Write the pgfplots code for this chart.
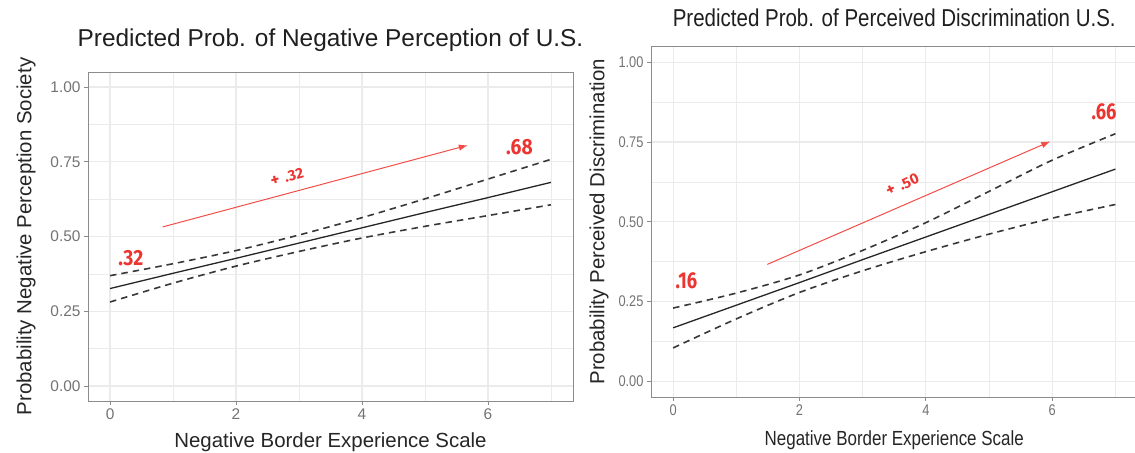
\documentclass[border=0pt]{standalone}
\usepackage{pgfplots}
\pgfplotsset{compat=1.18}
\usepackage{fontspec}
\setmainfont{Liberation Sans}
\newfontfamily\annfont{Fira Sans}
\usetikzlibrary{arrows.meta}
\definecolor{annred}{RGB}{236,52,48}
\definecolor{arrred}{RGB}{242,78,72}

\pgfplotstableread{
x  fit    up     lo
0  0.326  0.369  0.281
1  0.377  0.409  0.344
2  0.427  0.453  0.401
3  0.478  0.505  0.450
4  0.529  0.563  0.495
5  0.580  0.626  0.534
6  0.630  0.692  0.570
7  0.681  0.758  0.606
}\tabA
\pgfplotstableread{
x  fit    up     lo
0  0.167  0.229  0.104
1  0.238  0.276  0.195
2  0.309  0.333  0.278
3  0.381  0.410  0.346
4  0.452  0.497  0.406
5  0.523  0.595  0.461
6  0.594  0.693  0.511
7  0.665  0.776  0.554
}\tabB

\pgfplotsset{
  ggbw/.style={
    scale only axis,
    xmin=-0.35, xmax=7.35, ymin=-0.05, ymax=1.05,
    xtick={0,2,4,6}, ytick={0,0.25,0.5,0.75,1},
    minor xtick={1,3,5,7}, minor ytick={0.125,0.375,0.625,0.875},
    grid=both,
    major grid style={draw=black!8, line width=1.1bp},
    minor grid style={draw=black!8, line width=0.6bp},
    axis line style={draw=black!45, line width=0.9bp},
    tick align=outside, major tick length=4bp, minor tick length=0pt,
    xtick pos=bottom, ytick pos=left,
    tick style={draw=black!45, line width=0.9bp},
    /pgf/number format/assume math mode=true,
    clip=false,
  },
  fitline/.style={black!85, line width=1.3bp},
  ciline/.style={black!78, line width=1.6bp, dash pattern=on 6.5bp off 5bp, smooth, tension=0.5},
}

\begin{document}
\begin{tikzpicture}
\path[use as bounding box] (0,0) rectangle (1135bp,453bp);

% ---------------- Left panel ----------------
\begin{axis}[ggbw,
  at={(88bp,52bp)}, anchor=south west,
  width=485bp, height=329bp,
  ticklabel style={font=\fontsize{15.5}{15.5}\selectfont, text=black!55},
  yticklabel style={/pgf/number format/.cd, fixed, fixed zerofill, precision=2},
  title={Predicted Prob. of Negative Perception of U.S.},
  title style={font=\fontsize{24.5}{24.5}\selectfont, text=black!88, at={(axis description cs:0.5,1)}, anchor=base, yshift=20bp},
  xlabel={Negative Border Experience Scale},
  xlabel style={font=\fontsize{20.5}{20.5}\selectfont, text=black!85, at={(axis description cs:0.5,0)}, anchor=base, yshift=-46bp},
  ylabel={Probability Negative Perception Society},
  ylabel style={font=\fontsize{20.5}{20.5}\selectfont, text=black!85, at={([xshift=-62bp]axis description cs:0,0.5)}, anchor=center},
]
\addplot[ciline] table[x=x, y=up] {\tabA};
\addplot[ciline] table[x=x, y=lo] {\tabA};
\addplot[fitline] table[x=x, y=fit] {\tabA};
\addplot[arrred, line width=1bp, -{Latex[length=9bp,width=6.5bp]}] coordinates {(0.835,0.532) (5.68,0.805)};
\node[text=annred, font=\annfont\bfseries\fontsize{22}{22}\selectfont] at (axis cs:0.33,0.427) {\scalebox{0.88}[1]{.32}};
\node[text=annred, font=\annfont\bfseries\fontsize{22}{22}\selectfont] at (axis cs:6.5,0.80) {\scalebox{0.88}[1]{.68}};
\node[text=annred, font=\annfont\bfseries\fontsize{15}{15}\selectfont, rotate=15] at (axis cs:2.81,0.698) {{\fontsize{17}{17}\selectfont +}\hspace{0.35em}.32};
\end{axis}

\fill[white] (581bp,0) rectangle (1135bp,453bp);

% ---------------- Right panel ----------------
\begin{axis}[ggbw,
  at={(651bp,56bp)}, anchor=south west,
  width=486.5bp, height=350.6bp,
  ticklabel style={font=\fontsize{15.5}{15.5}\selectfont, text=black!55},
  xticklabels={\scalebox{0.83}[1]{0},\scalebox{0.83}[1]{2},\scalebox{0.83}[1]{4},\scalebox{0.83}[1]{6}},
  yticklabels={\scalebox{0.83}[1]{0.00},\scalebox{0.83}[1]{0.25},\scalebox{0.83}[1]{0.50},\scalebox{0.83}[1]{0.75},\scalebox{0.83}[1]{1.00}},
  title={\scalebox{0.84}[1]{Predicted Prob. of Perceived Discrimination U.S.}},
  title style={font=\fontsize{24.5}{24.5}\selectfont, text=black!88, at={(axis description cs:0.5,1)}, anchor=base, yshift=14bp},
  xlabel={\scalebox{0.83}[1]{Negative Border Experience Scale}},
  xlabel style={font=\fontsize{20.5}{20.5}\selectfont, text=black!85, at={(axis description cs:0.5,0)}, anchor=base, yshift=-48bp},
  ylabel={Probability Perceived Discrimination},
  ylabel style={font=\fontsize{20.5}{20.5}\selectfont, text=black!85, at={([xshift=-52bp]axis description cs:0,0.5)}, anchor=center},
]
\addplot[ciline] table[x=x, y=up] {\tabB};
\addplot[ciline] table[x=x, y=lo] {\tabB};
\addplot[fitline] table[x=x, y=fit] {\tabB};
\addplot[arrred, line width=1bp, -{Latex[length=9bp,width=6.5bp]}] coordinates {(1.49,0.366) (5.97,0.752)};
\node[text=annred, font=\annfont\bfseries\fontsize{23}{23}\selectfont] at (axis cs:0.21,0.316) {\scalebox{0.8}[1]{.16}};
\node[text=annred, font=\annfont\bfseries\fontsize{23}{23}\selectfont] at (axis cs:6.82,0.845) {\scalebox{0.8}[1]{.66}};
\node[text=annred, font=\annfont\bfseries\fontsize{15}{15}\selectfont, rotate=25] at (axis cs:3.63,0.615) {{\fontsize{17}{17}\selectfont +}\hspace{0.35em}.50};
\end{axis}
\end{tikzpicture}
\end{document}
